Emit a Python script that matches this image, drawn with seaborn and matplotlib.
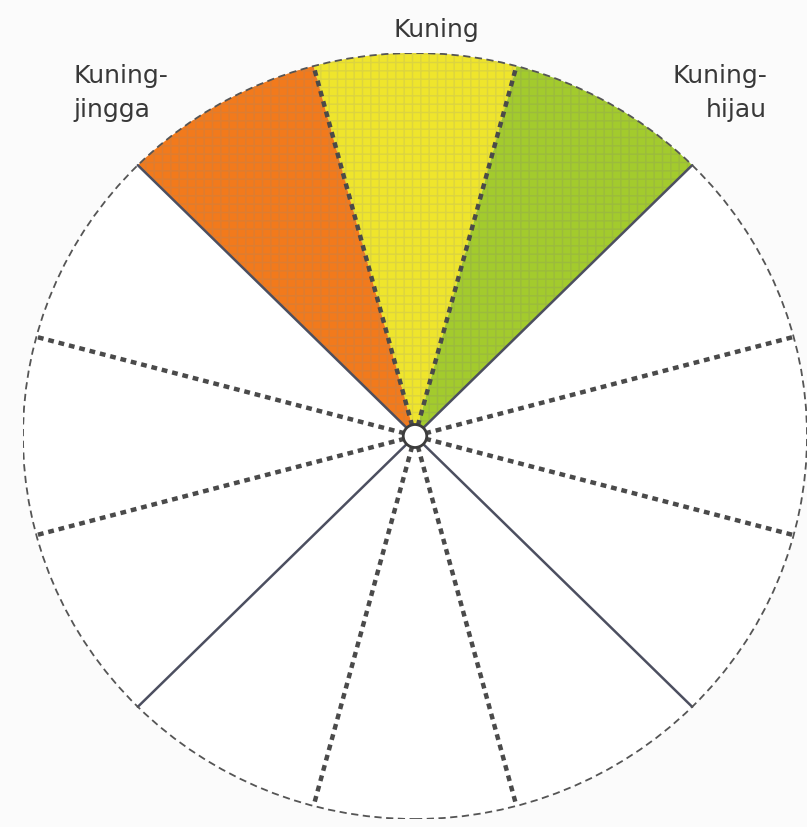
import matplotlib
matplotlib.use('Agg')

import matplotlib.pyplot as plt
from matplotlib.patches import Circle
import numpy as np
import seaborn as sns

# --- Data: 12 equal sectors of the colour wheel, starting right of top, counter-clockwise ---
sector_values = [1] * 12
sector_colors = ["#efe52c", "#f27a1c", "white", "white", "white", "white",
                 "white", "white", "white", "white", "white", "#a3cb2d"]
# style of the boundary line at the start of each sector
boundary_styles = ["dash", "dash", "solid", "dash", "dash", "solid",
                   "dash", "dash", "solid", "dash", "dash", "solid"]
label_texts = ["Kuning-\njingga", "Kuning", "Kuning-\nhijau"]

sns.set_theme(style="white")
plt.rcParams['font.family'] = ['DejaVu Sans']

fig = plt.figure(figsize=(8.07, 8.28), dpi=100)
fig.patch.set_facecolor("#fbfbfb")
ax = fig.add_axes([23 / 807, 8 / 828, 784 / 807, 766 / 828])

wedges, _ = ax.pie(sector_values, colors=sector_colors, startangle=75,
                   counterclock=True, radius=1,
                   wedgeprops=dict(linewidth=0))
ax.set_aspect('auto')
ax.set_xlim(-1, 1)
ax.set_ylim(-1, 1)
ax.axis('off')

# subtle texture on coloured sectors
for w, c in zip(wedges, sector_colors):
    if c != "white":
        w.set_hatch('++')
        w.set_edgecolor(sns.desaturate(c, 0.8))
        w.set_linewidth(0)

# boundary lines between sectors
for w, style in zip(wedges, boundary_styles):
    ang = np.deg2rad(w.theta1)
    xs, ys = [0, np.cos(ang)], [0, np.sin(ang)]
    if style == "dash":
        ax.plot(xs, ys, color="#4a4a4a", lw=3.2, ls=(0, (1.3, 1.1)),
                solid_capstyle='butt', zorder=3)
    else:
        ax.plot(xs, ys, color="#4c4f60", lw=1.8, zorder=3)

# outer circle and centre ring
ax.add_patch(Circle((0, 0), 1, fill=False, ec="#555555", lw=1.3,
                    ls=(0, (4, 2.5)), zorder=4))
ax.add_patch(Circle((0, 0), 0.03, fc="white", ec="#3c3c3c", lw=2, zorder=5))

# labels
ax.text(-0.872, 0.975, label_texts[0], ha='left', va='top', fontsize=18,
        color="#383838", linespacing=1.55)
ax.text(0.054, 1.062, label_texts[1], ha='center', va='center', fontsize=18,
        color="#383838")
ax.text(0.898, 0.975, label_texts[2], ha='right', va='top', fontsize=18,
        color="#383838", linespacing=1.55, multialignment='right')

plt.savefig("out.png", dpi=100, facecolor=fig.get_facecolor())
